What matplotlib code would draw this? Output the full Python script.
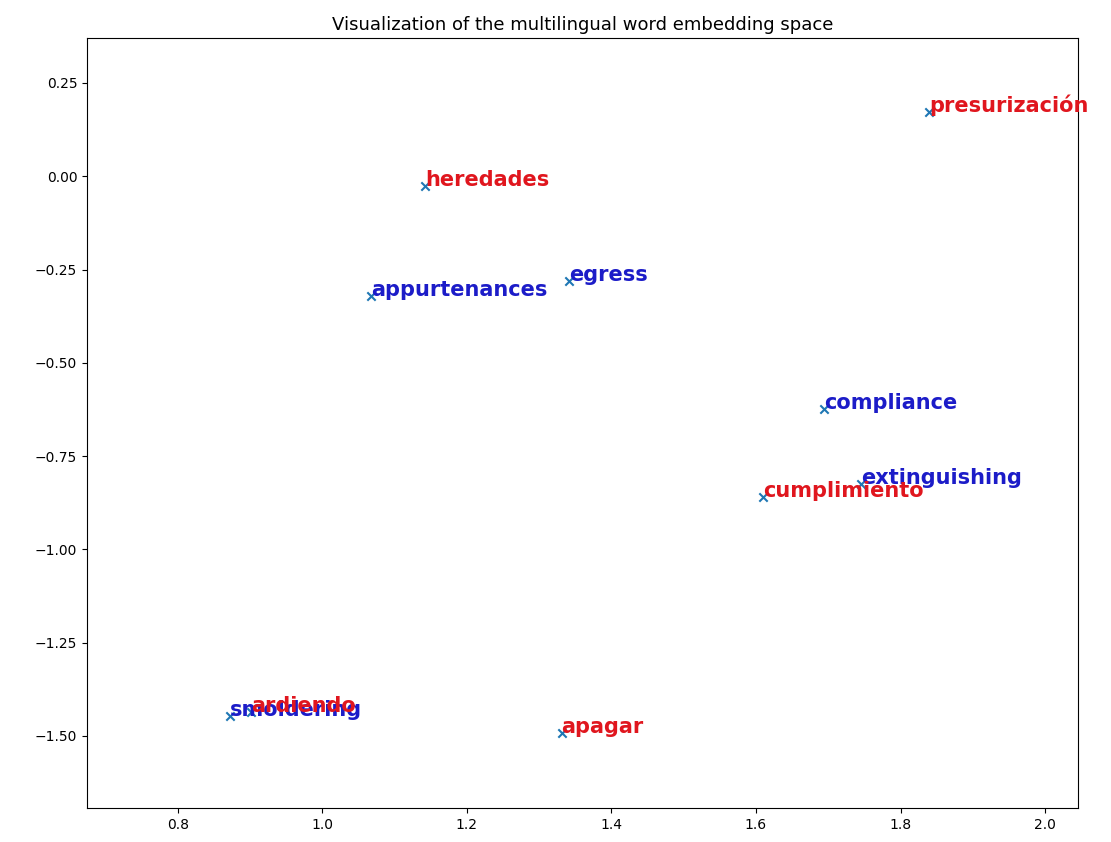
import matplotlib
matplotlib.use("Agg")
import matplotlib.pyplot as plt

words = ["smoldering", "appurtenances", "egress", "compliance", "extinguishing",
         "ardiendo", "heredades", "presurización", "cumplimiento", "apagar"]
is_source = [True, True, True, True, True, False, False, False, False, False]
xs = [0.872, 1.068, 1.342, 1.694, 1.745, 0.901, 1.142, 1.840, 1.610, 1.331]
ys = [-1.447, -0.321, -0.281, -0.624, -0.826, -1.436, -0.027, 0.171, -0.860, -1.492]

fig = plt.figure(figsize=(11.11, 8.42), dpi=100)
ax = fig.add_axes([0.0783, 0.0404, 0.892, 0.9145])
ax.scatter(xs, ys, marker='x', color='#1f77b4')
for w, src, x, y in zip(words, is_source, xs, ys):
    ax.annotate(w, xy=(x, y), xytext=(0, 0), textcoords='offset points',
                fontsize=15, color='#1c1cc8' if src else '#e0161e', weight='bold')
ax.set_xlim(0.6745, 2.0455)
ax.set_ylim(-1.693, 0.3705)
ax.set_xticks([0.8, 1.0, 1.2, 1.4, 1.6, 1.8, 2.0])
ax.set_yticks([0.25, 0.0, -0.25, -0.5, -0.75, -1.0, -1.25, -1.5])
ax.tick_params(labelsize=10)
ax.set_title("Visualization of the multilingual word embedding space", fontsize=13)
fig.savefig("out.png", dpi=100)
